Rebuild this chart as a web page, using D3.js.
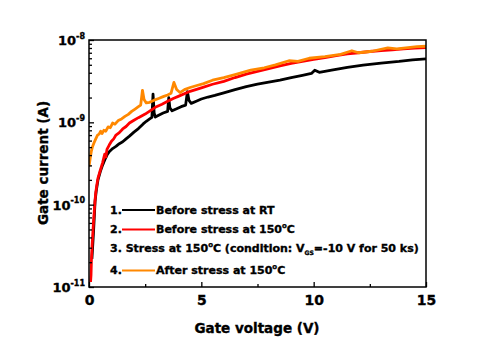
<!DOCTYPE html>
<html>
<head>
<meta charset="utf-8">
<script src="https://cdn.jsdelivr.net/npm/d3@7/dist/d3.min.js"></script>
<style>
  html, body { margin: 0; padding: 0; background: #fff; }
  svg { display: block; font-family: "DejaVu Sans", sans-serif; font-weight: bold; }
  svg text { stroke: #000; stroke-width: 0.35px; }
</style>
</head>
<body>
<svg id="chart" width="497" height="347"></svg>
<script>
// Gate leakage current vs gate voltage, four measurement conditions
const xMajorTicks = [0, 5, 10, 15];
const xMinorTicks = [2.5, 7.5, 12.5];
const yMajorExps = [-11, -10, -9, -8];

// 1. Before stress at RT  [gate voltage (V), gate current (A)]
const beforeRT = [
  [0.13, 2.2e-11], [0.16, 3.0e-11], [0.2, 4.6e-11], [0.24, 7.5e-11], [0.27, 1.1e-10],
  [0.32, 1.45e-10], [0.4, 2.0e-10], [0.5, 2.5e-10], [0.6, 3.0e-10], [0.7, 3.5e-10],
  [0.8, 4.0e-10], [0.9, 4.4e-10], [1.05, 4.8e-10], [1.2, 5.1e-10], [1.35, 5.5e-10],
  [1.5, 5.8e-10], [1.65, 6.3e-10], [1.8, 6.8e-10], [2.0, 7.6e-10], [2.2, 8.4e-10],
  [2.4, 9.5e-10], [2.55, 1.03e-9], [2.7, 1.1e-9], [2.8, 1.15e-9], [2.85, 2.2e-9],
  [2.9, 1.3e-9], [2.95, 1.16e-9], [3.1, 1.22e-9], [3.3, 1.3e-9], [3.5, 1.36e-9],
  [3.55, 2.0e-9], [3.6, 1.5e-9], [3.7, 1.38e-9], [3.9, 1.46e-9], [4.1, 1.55e-9],
  [4.3, 1.62e-9], [4.38, 2.35e-9], [4.45, 1.85e-9], [4.55, 1.7e-9], [4.8, 1.82e-9],
  [5.0, 1.92e-9], [5.3, 2.03e-9], [5.6, 2.12e-9], [6.0, 2.28e-9], [6.5, 2.5e-9],
  [7.0, 2.72e-9], [7.5, 2.92e-9], [8.0, 3.08e-9], [8.5, 3.26e-9], [9.0, 3.5e-9],
  [9.5, 3.72e-9], [9.9, 3.92e-9], [10.05, 4.3e-9], [10.25, 4.05e-9], [10.8, 4.3e-9],
  [11.5, 4.65e-9], [12.2, 4.95e-9], [13.0, 5.25e-9], [13.8, 5.5e-9], [14.4, 5.75e-9],
  [15.0, 5.9e-9]
];

// 2. Before stress at 150 °C
const before150 = [
  [0.07, 1.15e-11], [0.09, 1.4e-11], [0.11, 2.2e-11], [0.14, 3.3e-11], [0.17, 4.5e-11],
  [0.2, 6.1e-11], [0.23, 8.0e-11], [0.26, 1.05e-10], [0.3, 1.4e-10], [0.35, 1.75e-10],
  [0.4, 2.1e-10], [0.5, 2.6e-10], [0.6, 3.2e-10], [0.7, 4.1e-10], [0.75, 3.8e-10],
  [0.8, 4.7e-10], [0.9, 5.3e-10], [1.0, 5.9e-10], [1.1, 6.3e-10], [1.2, 7.0e-10],
  [1.35, 7.5e-10], [1.5, 8.3e-10], [1.65, 8.9e-10], [1.8, 9.8e-10], [2.0, 1.06e-9],
  [2.2, 1.14e-9], [2.5, 1.26e-9], [2.75, 1.4e-9], [3.0, 1.55e-9], [3.25, 1.66e-9],
  [3.5, 1.8e-9], [3.75, 1.95e-9], [4.0, 2.08e-9], [4.5, 2.38e-9], [5.0, 2.62e-9],
  [5.5, 2.9e-9], [6.0, 3.15e-9], [6.5, 3.5e-9], [7.0, 3.85e-9], [7.5, 4.15e-9],
  [8.0, 4.5e-9], [8.5, 4.85e-9], [9.0, 5.2e-9], [9.5, 5.5e-9], [10.0, 5.8e-9],
  [10.5, 6.1e-9], [11.0, 6.45e-9], [11.5, 6.8e-9], [12.0, 7.0e-9], [12.5, 7.25e-9],
  [13.0, 7.45e-9], [13.5, 7.6e-9], [14.0, 7.8e-9], [14.5, 7.95e-9], [15.0, 8.1e-9]
];

// 4. After stress at 150 °C
const after150 = [
  [0.0, 2.9e-10], [0.05, 3.6e-10], [0.1, 4.4e-10], [0.15, 5.0e-10], [0.22, 5.6e-10],
  [0.3, 6.3e-10], [0.38, 7.0e-10], [0.45, 7.2e-10], [0.52, 7.8e-10], [0.58, 7.3e-10],
  [0.66, 8.0e-10], [0.75, 7.8e-10], [0.85, 8.8e-10], [0.95, 8.6e-10], [1.05, 9.8e-10],
  [1.15, 9.5e-10], [1.3, 1.05e-9], [1.45, 1.1e-9], [1.6, 1.18e-9], [1.75, 1.25e-9],
  [1.9, 1.36e-9], [2.05, 1.45e-9], [2.2, 1.55e-9], [2.3, 1.62e-9], [2.38, 2.45e-9],
  [2.45, 1.9e-9], [2.55, 1.72e-9], [2.7, 1.75e-9], [2.9, 1.86e-9], [3.1, 1.95e-9],
  [3.3, 2.05e-9], [3.5, 2.15e-9], [3.65, 2.25e-9], [3.78, 3.05e-9], [3.9, 2.5e-9],
  [4.05, 2.3e-9], [4.25, 2.5e-9], [4.5, 2.65e-9], [4.8, 2.8e-9], [5.1, 2.95e-9],
  [5.5, 3.25e-9], [6.0, 3.5e-9], [6.5, 3.8e-9], [7.2, 4.3e-9], [7.8, 4.6e-9],
  [8.3, 5.0e-9], [8.9, 5.6e-9], [9.3, 5.5e-9], [9.8, 6.0e-9], [10.5, 6.3e-9],
  [11.2, 6.7e-9], [11.7, 7.4e-9], [12.0, 7.0e-9], [12.6, 7.3e-9], [13.3, 8.0e-9],
  [13.7, 7.8e-9], [14.2, 8.1e-9], [14.6, 8.3e-9], [15.0, 8.4e-9]
];

const series = [
  { data: beforeRT, color: "#000000", width: 2.8 },
  { data: before150, color: "#ff0000", width: 2.8 },
  { data: after150, color: "#ff8800", width: 2.8 }
];

const svg = d3.select("#chart");
const plotL = 89, plotR = 426, plotT = 40, plotB = 287;
const fontFam = "DejaVu Sans, sans-serif";

const x = d3.scaleLinear().domain([0, 15]).range([plotL, plotR]);
const y = d3.scaleLog().domain([1e-11, 1e-8]).range([plotB, plotT]);

// curves, clipped to the plot box
svg.append("clipPath").attr("id", "plotClip")
  .append("rect").attr("x", plotL).attr("y", plotT).attr("width", plotR - plotL).attr("height", plotB - plotT);

const line = d3.line().x(d => x(d[0])).y(d => y(d[1]));
const curves = svg.append("g").attr("clip-path", "url(#plotClip)");
series.forEach(s => {
  curves.append("path")
    .attr("d", line(s.data))
    .attr("fill", "none")
    .attr("stroke", s.color)
    .attr("stroke-width", s.width)
    .attr("stroke-linejoin", "round");
});

// frame
svg.append("rect")
  .attr("x", plotL).attr("y", plotT).attr("width", plotR - plotL).attr("height", plotB - plotT)
  .attr("fill", "none").attr("stroke", "#000").attr("stroke-width", 1.5);

// x axis (ticks pointing inward)
const xAxis = svg.append("g").attr("transform", `translate(0,${plotB})`)
  .call(d3.axisBottom(x).tickValues(xMajorTicks).tickSize(-5).tickPadding(8).tickFormat(d3.format("d")));
svg.append("g").attr("transform", `translate(0,${plotB})`)
  .call(d3.axisBottom(x).tickValues(xMinorTicks).tickSize(-3).tickFormat(""));

// y axis, log decades with minor ticks
const yMinor = [];
yMajorExps.slice(0, -1).forEach(e => {
  for (let m = 2; m <= 9; m++) yMinor.push(m * Math.pow(10, e));
});
const yAxis = svg.append("g").attr("transform", `translate(${plotL},0)`)
  .call(d3.axisLeft(y).tickValues(yMajorExps.map(e => Math.pow(10, e))).tickSize(-5).tickFormat(""));
svg.append("g").attr("transform", `translate(${plotL},0)`)
  .call(d3.axisLeft(y).tickValues(yMinor).tickSize(-3).tickFormat(""));

svg.selectAll(".domain").attr("stroke", "none");
svg.selectAll(".tick line").attr("stroke", "#000").attr("stroke-width", 1.3);

xAxis.selectAll(".tick text")
  .attr("fill", "#000").attr("font-size", 14).attr("font-weight", "bold")
  .attr("font-family", fontFam);

// decade labels: 10 with superscript exponent
yAxis.selectAll(".tick text").remove();
yAxis.selectAll(".tick").each(function (d) {
  const e = Math.round(Math.log10(d));
  const t = d3.select(this).append("text")
    .attr("x", -4).attr("y", 4.5)
    .attr("fill", "#000").attr("font-size", 13).attr("text-anchor", "end")
    .attr("font-family", fontFam).attr("font-weight", "bold");
  t.append("tspan").text("10");
  t.append("tspan").attr("font-size", 8).attr("dy", -6.5).text("-" + Math.abs(e));
});

// axis titles
svg.append("text")
  .attr("x", 257).attr("y", 333)
  .attr("text-anchor", "middle").attr("font-size", 13.5).attr("fill", "#000")
  .text("Gate voltage (V)");
svg.append("text")
  .attr("transform", `translate(48,163) rotate(-90)`)
  .attr("text-anchor", "middle").attr("font-size", 13.5).attr("fill", "#000")
  .text("Gate current (A)");

// legend
const legendItems = [
  { num: "1.", color: "#000000", parts: [["Before stress at RT"]], y: 213.5 },
  { num: "2.", color: "#ff0000", parts: [["Before stress at 150"], ["o", "sup"], ["C"]], y: 233 },
  { num: "3.", color: null, parts: [[" Stress at 150"], ["o", "sup"], ["C (condition: V"], ["GS", "sub"], ["=-10 V for 50 ks)"]], y: 252 },
  { num: "4.", color: "#ff8800", parts: [["After stress at 150"], ["o", "sup"], ["C"]], y: 274 }
];
const lg = svg.append("g").attr("font-size", 11).attr("fill", "#000");
legendItems.forEach(it => {
  const t = lg.append("text").attr("x", 110).attr("y", it.y);
  t.append("tspan").text(it.num);
  if (it.color) {
    lg.append("line")
      .attr("x1", 122).attr("x2", 155).attr("y1", it.y - 3.5).attr("y2", it.y - 3.5)
      .attr("stroke", it.color).attr("stroke-width", 2.2);
  }
  let offset = 0;
  it.parts.forEach((p, i) => {
    const sp = t.append("tspan").text(p[0]);
    if (i === 0 && it.color) sp.attr("x", 156);
    let target = 0;
    if (p[1] === "sup") { sp.attr("font-size", 7); target = -5; }
    if (p[1] === "sub") { sp.attr("font-size", 6); target = 2.5; }
    sp.attr("dy", target - offset);
    offset = target;
  });
});
</script>
</body>
</html>
